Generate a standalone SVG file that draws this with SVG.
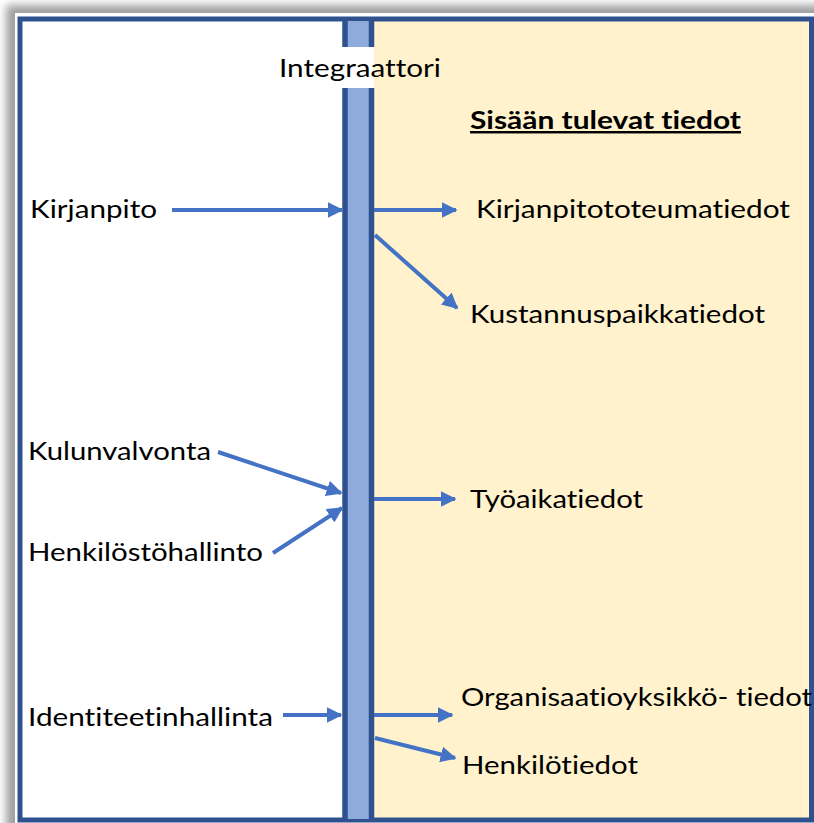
<svg xmlns="http://www.w3.org/2000/svg" width="814" height="823" viewBox="0 0 814 823">
<defs>
<filter id="blur" x="-5%" y="-5%" width="110%" height="110%"><feGaussianBlur stdDeviation="4"/></filter>
<marker id="ah" viewBox="0 0 10 10" refX="9" refY="5" markerWidth="4" markerHeight="4" markerUnits="strokeWidth" orient="auto"><path d="M0,0 L10,5 L0,10 z" fill="#4472C4"/></marker>
</defs>
<style>
.t{font-family:Lato,"Open Sans","Liberation Sans",sans-serif;font-size:24.5px;fill:#000;font-variant-ligatures:none}
.b{font-weight:bold;text-decoration:underline}
.c{stroke:#4472C4;stroke-width:4;fill:none;marker-end:url(#ah)}
.fill{fill:#8FAADC}
.edge{stroke:#2F528F;stroke-width:5.5;fill:none}
</style>
<rect x="0" y="0" width="814" height="823" fill="#ffffff"/>
<rect x="6" y="5" width="830" height="840" fill="#a0a0a0" filter="url(#blur)"/>
<rect x="15" y="13" width="810" height="820" fill="#ffffff"/>
<g id="panels">
<rect x="20" y="19" width="354" height="801" fill="#ffffff"/>
<rect x="374" y="19" width="437" height="801" fill="#FFF2CC"/>
<rect x="20" y="19" width="791.5" height="801" fill="none" stroke="#2F528F" stroke-width="5"/>
</g>
<g id="integraattori">
<rect class="fill" x="345" y="21" width="26.5" height="26"/>
<rect class="fill" x="345" y="88" width="26.5" height="731"/>
<path class="edge" d="M345,21 V47 M371.5,21 V47 M345,88 V819 M371.5,88 V819"/>
<text class="t" x="360" y="77" text-anchor="middle" textLength="162" lengthAdjust="spacingAndGlyphs">Integraattori</text>
</g>
<g id="otsikko"><text class="t b" x="470" y="129" textLength="271" lengthAdjust="spacingAndGlyphs">Sisään tulevat tiedot</text></g>
<g id="kirjanpito"><text class="t" x="30" y="218" textLength="127" lengthAdjust="spacingAndGlyphs">Kirjanpito</text></g>
<g id="kulunvalvonta"><text class="t" x="28" y="460" textLength="183" lengthAdjust="spacingAndGlyphs">Kulunvalvonta</text></g>
<g id="henkilostohallinto"><text class="t" x="28" y="561" textLength="235" lengthAdjust="spacingAndGlyphs">Henkilöstöhallinto</text></g>
<g id="identiteetinhallinta"><text class="t" x="28" y="726" textLength="245" lengthAdjust="spacingAndGlyphs">Identiteetinhallinta</text></g>
<g id="kirjanpitototeumatiedot"><text class="t" x="476" y="218" textLength="314" lengthAdjust="spacingAndGlyphs">Kirjanpitototeumatiedot</text></g>
<g id="kustannuspaikkatiedot"><text class="t" x="470" y="323" textLength="295" lengthAdjust="spacingAndGlyphs">Kustannuspaikkatiedot</text></g>
<g id="tyoaikatiedot"><text class="t" x="470" y="508" textLength="173" lengthAdjust="spacingAndGlyphs">Työaikatiedot</text></g>
<g id="organisaatioyksikko"><text class="t" x="461" y="706" textLength="351" lengthAdjust="spacingAndGlyphs">Organisaatioyksikkö- tiedot</text></g>
<g id="henkilotiedot"><text class="t" x="462" y="774" textLength="176" lengthAdjust="spacingAndGlyphs">Henkilötiedot</text></g>
<g id="connectors">
<line class="c" x1="172" y1="210" x2="342" y2="210"/>
<line class="c" x1="374" y1="210" x2="456" y2="210"/>
<line class="c" x1="375" y1="235" x2="457" y2="308"/>
<line class="c" x1="218" y1="452" x2="341" y2="493"/>
<line class="c" x1="273" y1="553" x2="342" y2="508"/>
<line class="c" x1="374" y1="499" x2="455" y2="499"/>
<line class="c" x1="283" y1="715" x2="341" y2="715"/>
<line class="c" x1="374" y1="715" x2="452" y2="715"/>
<line class="c" x1="375" y1="738" x2="455" y2="758"/>
</g>
</svg>
